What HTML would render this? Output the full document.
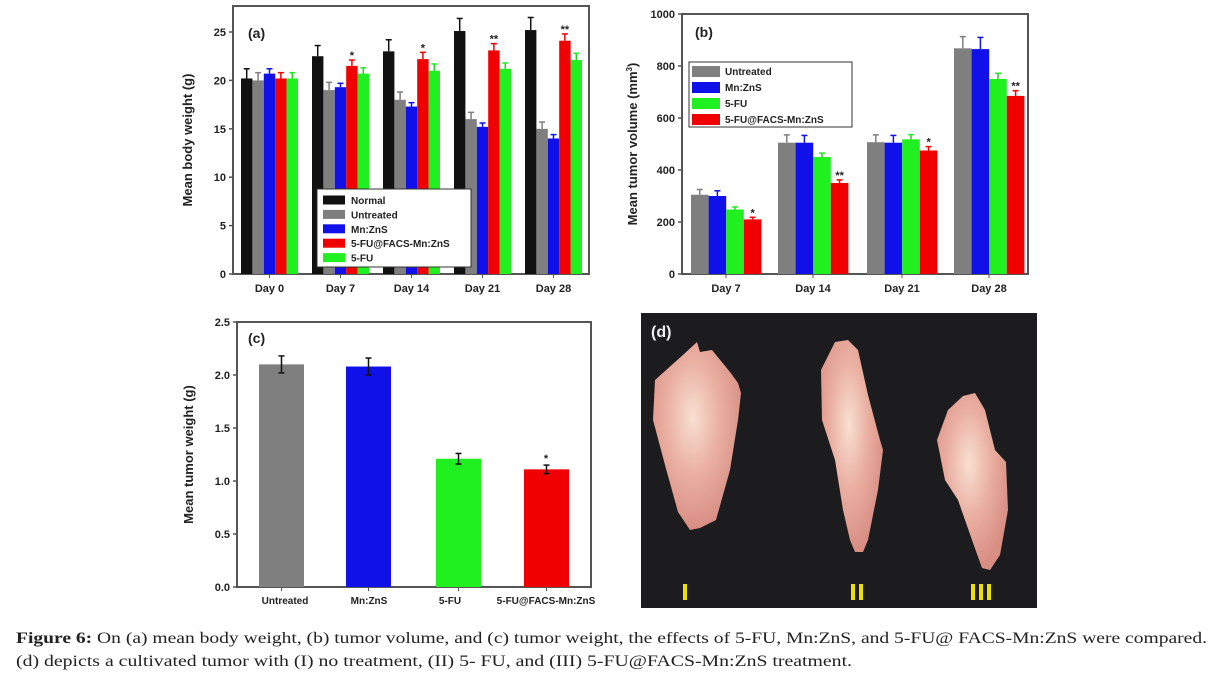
<!DOCTYPE html>
<html><head><meta charset="utf-8"><style>
body{margin:0;background:#fff;width:1220px;height:689px;overflow:hidden}
svg{display:block}
.t{font-family:"Liberation Sans",Arial,sans-serif;font-weight:bold;fill:#222}
.cap{font-family:"Liberation Serif",serif;font-size:16px;fill:#222}
</style></head><body>
<svg width="1220" height="689" viewBox="0 0 1220 689" xmlns="http://www.w3.org/2000/svg">
<defs>
<radialGradient id="tg" cx="45%" cy="40%" r="60%">
<stop offset="0" stop-color="#f8e0d2"/><stop offset="0.5" stop-color="#eab0a2"/><stop offset="1" stop-color="#d98e84"/>
</radialGradient>
</defs>
<g id="a"></g><g id="b"></g><g id="c"></g>
<!-- panel d -->
<rect x="641" y="313" width="396" height="295" fill="#1c1c1e"/>
<text x="651" y="337" font-family="Liberation Sans,sans-serif" font-size="16" font-weight="bold" fill="#eee">(d)</text>
<path d="M684,354 L697,342 L700,352 L712,350 L730,372 L738,383 L741,393 L738,420 L730,470 L716,520 L700,528 L690,530 L678,512 L665,465 L653,420 L655,380 Z" fill="url(#tg)"/>
<path d="M835,342 L848,340 L858,350 L868,395 L880,440 L883,450 L878,490 L868,540 L863,552 L855,552 L850,540 L843,510 L835,460 L822,420 L821,370 Z" fill="url(#tg)"/>
<path d="M963,396 L975,393 L985,410 L995,450 L1006,462 L1008,510 L1000,555 L990,570 L982,568 L972,540 L958,500 L945,480 L937,440 L948,410 Z" fill="url(#tg)"/>
<g fill="#f0e000"><rect x="683" y="584" width="4" height="16"/><rect x="851" y="584" width="4" height="16"/><rect x="859" y="584" width="4" height="16"/><rect x="971" y="584" width="4" height="16"/><rect x="979" y="584" width="4" height="16"/><rect x="987" y="584" width="4" height="16"/></g>
<text class="cap" x="16" y="643" textLength="1191" lengthAdjust="spacingAndGlyphs"><tspan font-weight="bold">Figure 6:</tspan> On (a) mean body weight, (b) tumor volume, and (c) tumor weight, the effects of 5-FU, Mn:ZnS, and 5-FU@ FACS-Mn:ZnS were compared.</text>
<text class="cap" x="16" y="666" textLength="836" lengthAdjust="spacingAndGlyphs">(d) depicts a cultivated tumor with (I) no treatment, (II) 5- FU, and (III) 5-FU@FACS-Mn:ZnS treatment.</text>
</svg>
<script>
const NS="http://www.w3.org/2000/svg";
function el(p,tag,attrs,txt){const e=document.createElementNS(NS,tag);for(const k in attrs)e.setAttribute(k,attrs[k]);if(txt!==undefined)e.textContent=txt;p.appendChild(e);return e;}
const C={k:"#111",g:"#7f7f7f",b:"#1010e8",r:"#f00000",gr:"#20f020"};
function axes(g,x0,x1,y0,y1,ticks,yfun,ylab,labx){
  el(g,"rect",{x:x0,y:y1,width:x1-x0,height:y0-y1,fill:"none",stroke:"#555","stroke-width":2});
  ticks.forEach(v=>{const y=yfun(v);el(g,"line",{x1:x0-4,x2:x0,y1:y,y2:y,stroke:"#555","stroke-width":1.5});
    el(g,"text",{class:"t",x:x0-7,y:y+4,"font-size":11,"text-anchor":"end"},v);});
  el(g,"text",{class:"t",x:0,y:0,"font-size":13,"text-anchor":"middle",transform:`translate(${labx},${(y0+y1)/2}) rotate(-90)`},ylab);
}
function bar(g,x,w,y0,yv,ye,col,star){
  el(g,"rect",{x:x,y:yv,width:w,height:y0-yv,fill:col});
  if(ye!==null){el(g,"line",{x1:x+w/2,x2:x+w/2,y1:yv,y2:ye,stroke:col==C.gr?"#20d020":col,"stroke-width":1.5});
  el(g,"line",{x1:x+w/2-3,x2:x+w/2+3,y1:ye,y2:ye,stroke:col,"stroke-width":1.5});}
  if(star)el(g,"text",{class:"t",x:x+w/2,y:ye-1,"font-size":11,"text-anchor":"middle"},star);
}
// panel a
(function(){const g=document.getElementById("a");const y0=274,s=9.68,f=v=>y0-v*s;
axes(g,233,589,y0,6,[0,5,10,15,20,25],f,"Mean body weight (g)",192);
el(g,"text",{class:"t",x:248,y:38,"font-size":14},"(a)");
const D=[[C.k,[20.2,22.5,23,25.1,25.2],[1,1.1,1.2,1.3,1.3]],[C.g,[20,19,18,16,15],[.8,.8,.8,.7,.7]],[C.b,[20.7,19.3,17.3,15.2,14],[.5,.4,.4,.4,.4]],[C.r,[20.2,21.5,22.2,23.1,24.1],[.6,.6,.7,.7,.7]],[C.gr,[20.2,20.7,21,21.2,22.1],[.6,.6,.7,.6,.7]]];
const st=["","*","*","**","**"],lab=["Day 0","Day 7","Day 14","Day 21","Day 28"];
for(let i=0;i<5;i++){const gx=241+71*i;D.forEach((d,j)=>bar(g,gx+j*11.4,11.4,y0,f(d[1][i]),f(d[1][i]+d[2][i]),d[0],j==3&&st[i]?st[i]:null));
el(g,"line",{x1:gx+28.5,x2:gx+28.5,y1:y0,y2:y0+4,stroke:"#555"});
el(g,"text",{class:"t",x:gx+28.5,y:292,"font-size":11,"text-anchor":"middle"},lab[i]);}
el(g,"rect",{x:317,y:189,width:154,height:78,fill:"#fff",stroke:"#333","stroke-width":1});
["Normal","Untreated","Mn:ZnS","5-FU@FACS-Mn:ZnS","5-FU"].forEach((t,j)=>{const y=200+j*14.4;
el(g,"rect",{x:323,y:y-4.5,width:22,height:9,fill:D[j][0]});el(g,"text",{class:"t",x:351,y:y+4,"font-size":10},t);});})();
// panel b
(function(){const g=document.getElementById("b");const y0=274,s=0.26,f=v=>y0-v*s;
axes(g,682,1028,y0,14,[0,200,400,600,800,1000],f,"",635);
const yl=el(g,"text",{class:"t",x:0,y:0,"font-size":13,"text-anchor":"middle",transform:"translate(637,144) rotate(-90)"},"Mean tumor volume (mm");
el(yl,"tspan",{dy:-5,"font-size":8},"3");el(yl,"tspan",{dy:5},")");
el(g,"text",{class:"t",x:695,y:37,"font-size":14},"(b)");
const D=[[C.g,[305,505,507,868],[20,30,28,45]],[C.b,[300,505,505,865],[20,28,28,45]],[C.gr,[248,450,518,750],[10,15,18,22]],[C.r,[210,350,475,685],[8,12,15,20]]];
const st=["*","**","*","**"],lab=["Day 7","Day 14","Day 21","Day 28"];
[691,778,867,954].forEach((gx,i)=>{D.forEach((d,j)=>bar(g,gx+j*17.6,17.6,y0,f(d[1][i]),f(d[1][i]+d[2][i]),d[0],j==3?st[i]:null));
el(g,"line",{x1:gx+35,x2:gx+35,y1:y0,y2:y0+4,stroke:"#555"});
el(g,"text",{class:"t",x:gx+35,y:292,"font-size":11,"text-anchor":"middle"},lab[i]);});
el(g,"rect",{x:689,y:62,width:163,height:65,fill:"#fff",stroke:"#333","stroke-width":1});
["Untreated","Mn:ZnS","5-FU","5-FU@FACS-Mn:ZnS"].forEach((t,j)=>{const y=71+j*16;
el(g,"rect",{x:692,y:y-5,width:28,height:11,fill:D[j][0]});el(g,"text",{class:"t",x:725,y:y+4,"font-size":10},t);});})();
// panel c
(function(){const g=document.getElementById("c");const y0=587,s=106,f=v=>y0-v*s;
axes(g,237,591,y0,322,["0.0","0.5","1.0","1.5","2.0","2.5"],v=>f(+v),"Mean tumor weight (g)",193);
el(g,"text",{class:"t",x:248,y:343,"font-size":14},"(c)");
const B=[[259,C.g,2.1,.08,"Untreated"],[346,C.b,2.08,.08,"Mn:ZnS"],[436,C.gr,1.21,.05,"5-FU"],[524,C.r,1.11,.04,"5-FU@FACS-Mn:ZnS"]];
B.forEach(b=>{el(g,"rect",{x:b[0],y:f(b[2]),width:45,height:b[2]*s,fill:b[1]});
const cx=b[0]+22.5;el(g,"line",{x1:cx,x2:cx,y1:f(b[2]-b[3]),y2:f(b[2]+b[3]),stroke:"#111","stroke-width":1.5});
[b[2]-b[3],b[2]+b[3]].forEach(v=>el(g,"line",{x1:cx-3,x2:cx+3,y1:f(v),y2:f(v),stroke:"#111","stroke-width":1.5}));
el(g,"line",{x1:cx,x2:cx,y1:y0,y2:y0+4,stroke:"#555"});});
el(g,"text",{class:"t",x:546,y:f(1.15)-3,"font-size":11,"text-anchor":"middle"},"*");
[[285,"Untreated"],[369,"Mn:ZnS"],[450,"5-FU"],[546,"5-FU@FACS-Mn:ZnS"]].forEach(l=>el(g,"text",{class:"t",x:l[0],y:604,"font-size":10,"text-anchor":"middle"},l[1]));})();
</script>
</body></html>
